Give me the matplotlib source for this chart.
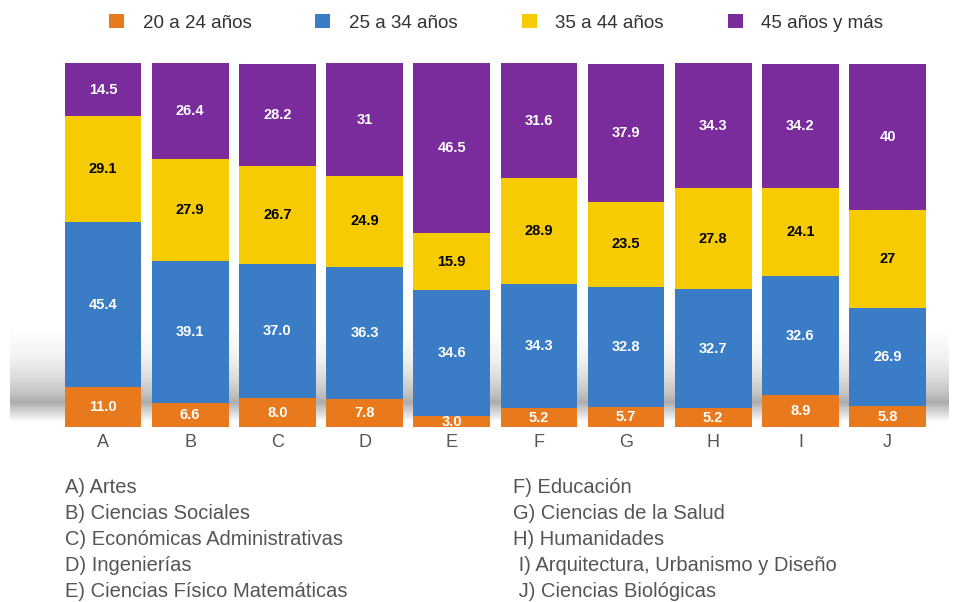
import matplotlib.pyplot as plt
import numpy as np
from matplotlib.patches import Patch

plt.rcParams["font.family"] = ["Liberation Sans", "DejaVu Sans"]

# data
categories = ["A", "B", "C", "D", "E", "F", "G", "H", "I", "J"]
age_20_24 = [11.0, 6.6, 8.0, 7.8, 3.0, 5.2, 5.7, 5.2, 8.9, 5.8]
age_25_34 = [45.4, 39.1, 37.0, 36.3, 34.6, 34.3, 32.8, 32.7, 32.6, 26.9]
age_35_44 = [29.1, 27.9, 26.7, 24.9, 15.9, 28.9, 23.5, 27.8, 24.1, 27]
age_45_mas = [14.5, 26.4, 28.2, 31, 46.5, 31.6, 37.9, 34.3, 34.2, 40]
label_20_24 = ["11.0", "6.6", "8.0", "7.8", "3.0", "5.2", "5.7", "5.2", "8.9", "5.8"]
label_25_34 = ["45.4", "39.1", "37.0", "36.3", "34.6", "34.3", "32.8", "32.7", "32.6", "26.9"]
label_35_44 = ["29.1", "27.9", "26.7", "24.9", "15.9", "28.9", "23.5", "27.8", "24.1", "27"]
label_45_mas = ["14.5", "26.4", "28.2", "31", "46.5", "31.6", "37.9", "34.3", "34.2", "40"]
series_names = ["20 a 24 años", "25 a 34 años", "35 a 44 años", "45 años y más"]
areas_left = [
    "A) Artes",
    "B) Ciencias Sociales",
    "C) Económicas Administrativas",
    "D) Ingenierías",
    "E) Ciencias Físico Matemáticas",
]
areas_right = [
    "F) Educación",
    "G) Ciencias de la Salud",
    "H) Humanidades",
    " I) Arquitectura, Urbanismo y Diseño",
    " J) Ciencias Biológicas",
]

colors = ["#E8791C", "#3B7CC6", "#F7CB02", "#7B2C9C"]
text_colors = ["white", "white", "black", "white"]

fig = plt.figure(figsize=(9.58, 6.02), dpi=100, facecolor="white")

# soft grey shadow band behind the lower part of the bars (top -> bottom)
bg = fig.add_axes([0.01, 0.30, 0.98, 0.15], zorder=0)
t = np.linspace(0, 1, 120)
profile = np.clip(t / 0.8, 0, 1) ** 1.5 * np.clip((1 - t) / 0.2, 0, 1) ** 0.7
bg.imshow(profile.reshape(-1, 1), aspect="auto", cmap="Greys",
          vmin=-0.05, vmax=2.4, extent=[0, 1, 0, 1])
bg.axis("off")

ax = fig.add_axes([0.062, 0.29, 0.91, 0.605], zorder=1)
ax.patch.set_alpha(0)

x = np.arange(len(categories))
series = [age_20_24, age_25_34, age_35_44, age_45_mas]
labels = [label_20_24, label_25_34, label_35_44, label_45_mas]
bottom = np.zeros(len(categories))
for vals, labs, col, tcol in zip(series, labels, colors, text_colors):
    vals = np.array(vals, dtype=float)
    ax.bar(x, vals, bottom=bottom, width=0.88, color=col, edgecolor="none")
    for xi, b, v, lab in zip(x, bottom, vals, labs):
        ax.text(xi, b + v / 2, lab, ha="center", va="center", color=tcol,
                fontsize=10.5, fontweight="bold")
    bottom += vals

ax.set_xlim(-0.5, len(categories) - 0.5)
ax.set_ylim(0, 100)
ax.set_xticks(x)
ax.set_xticklabels(categories, fontsize=13, color="#555555")
ax.tick_params(axis="x", length=0, pad=5)
ax.set_yticks([])
for s in ax.spines.values():
    s.set_visible(False)

handles = [Patch(facecolor=c, edgecolor="none") for c in colors]
fig.legend(handles, series_names, loc="center", bbox_to_anchor=(0.518, 0.962),
           ncol=4, frameon=False, fontsize=13.5, handlelength=0.8,
           handleheight=0.8, columnspacing=3.4, handletextpad=1.0,
           labelcolor="#333333")

for i, txt in enumerate(areas_left):
    fig.text(0.068, 0.191 - i * 0.0435, txt, fontsize=14.5, color="#555555",
             va="center")
for i, txt in enumerate(areas_right):
    fig.text(0.535, 0.191 - i * 0.0435, txt, fontsize=14.5, color="#555555",
             va="center")

fig.savefig("out.png", dpi=100, facecolor="white")
